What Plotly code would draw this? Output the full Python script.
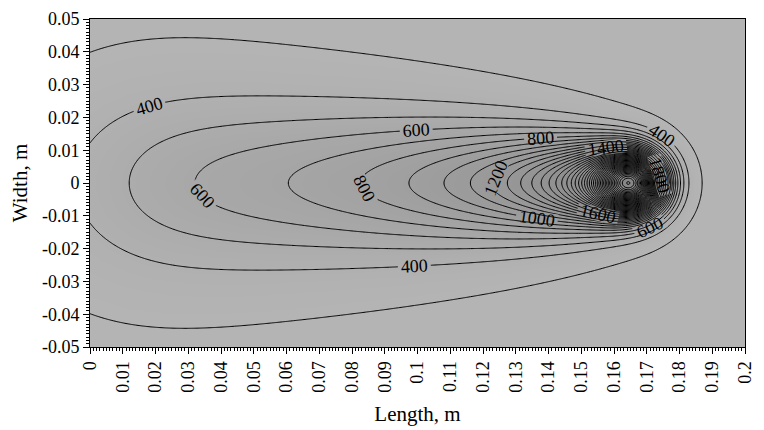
import numpy as np
import plotly.graph_objects as go

# ---- temperature field of a moving distributed heat source (x along the weld, y across) ----
ambient_T = 282.0        # K
source_x = 0.1678        # current source position, m
start_x = 0.0            # source started at the plate edge, m
half_peclet = 440.0      # v / (2a), 1/m
spread = 0.016           # source spread length (u * sigma^2), m
amplitude = 402.0

# contour levels, K: odd hundreds drawn plain, even hundreds labelled
odd_levels = dict(start=300, end=6900, size=200)
labelled_levels = dict(start=400, end=7000, size=200)

x_ticks = [round(0.01 * i, 2) for i in range(21)]
y_ticks = [round(-0.05 + 0.01 * i, 2) for i in range(11)]
x_labels = ["0" if v == 0 else f"{v:g}" for v in x_ticks]
y_labels = ["0" if v == 0 else f"{v:g}" for v in y_ticks]

x = np.linspace(0, 0.2, 601)
y_half = np.linspace(0, 0.05, 151)
w = np.linspace(0, np.sqrt(source_x - start_x), 1200)   # s = w^2 (distance travelled since emission)
s = w ** 2
T_half = np.empty((len(y_half), len(x)))
for j, yy in enumerate(y_half):
    arg = ((x[:, None] - source_x + s[None, :]) ** 2 + yy ** 2) / (s[None, :] + spread)
    integrand = 2.0 * np.exp(-0.5 * half_peclet * arg) / (s[None, :] + spread)
    T_half[j] = ambient_T + amplitude * np.trapezoid(integrand, w, axis=1)
y = np.concatenate([-y_half[:0:-1], y_half])
T = np.vstack([T_half[:0:-1], T_half])

font = "Liberation Serif"
line_style = dict(color="black", width=1)
fig = go.Figure()
fig.add_trace(go.Heatmap(
    x=x, y=y, z=T, zmin=300, zmax=3000, zsmooth="best", showscale=False, hoverinfo="skip",
    colorscale=[[0, "#b4b4b4"], [0.11, "#a8a8a8"], [0.26, "#9c9c9c"], [0.48, "#929292"], [1, "#888888"]]))
fig.add_trace(go.Contour(x=x, y=y, z=T, contours=dict(coloring="none", **odd_levels),
                         line=line_style, showscale=False, hoverinfo="skip"))
fig.add_trace(go.Contour(x=x, y=y, z=T,
                         contours=dict(coloring="none", showlabels=True, labelformat=".0f",
                                       labelfont=dict(family=font, size=18, color="black"), **labelled_levels),
                         line=line_style, showscale=False, hoverinfo="skip"))

axis_common = dict(showline=True, linecolor="black", linewidth=1, mirror=True, ticks="outside", ticklen=6,
                   tickcolor="black", showgrid=False, zeroline=False,
                   tickfont=dict(family=font, size=18, color="black"))
minor = dict(dtick=0.001, tick0=0, ticks="outside", ticklen=3, tickcolor="black")
fig.update_layout(
    width=764, height=430, margin=dict(l=90, r=9, t=17, b=83), paper_bgcolor="white", plot_bgcolor="#b4b4b4",
    showlegend=False,
    xaxis=dict(range=[0, 0.2], tickvals=x_ticks, ticktext=x_labels, tickangle=-90, minor=minor,
               title=dict(text="Length, m", font=dict(family=font, size=21, color="black"), standoff=14),
               **axis_common),
    yaxis=dict(range=[-0.05, 0.05], tickvals=y_ticks, ticktext=y_labels, minor=minor,
               title=dict(text="Width, m", font=dict(family=font, size=21, color="black"), standoff=8),
               **axis_common),
)
fig.write_html("out.html")
